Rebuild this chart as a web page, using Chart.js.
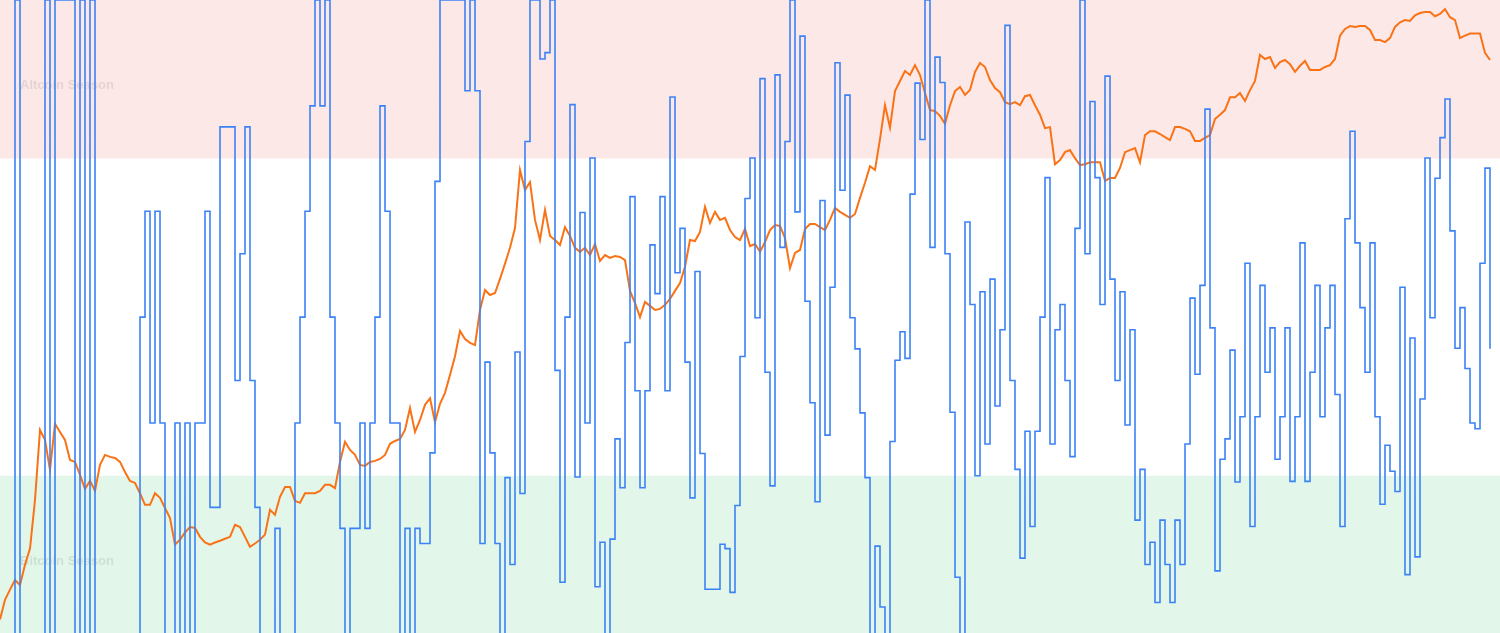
<!DOCTYPE html>
<html>
<head>
<meta charset="utf-8">
<script src="https://cdn.jsdelivr.net/npm/chart.js@4.4.1/dist/chart.umd.min.js"></script>
<style>
  html, body { margin: 0; padding: 0; background: #fff; overflow: hidden; }
  #wrap { width: 1500px; height: 633px; }
</style>
</head>
<body>
<div id="wrap"><canvas id="myChart" width="1500" height="633"></canvas></div>
<script>
// one sample every ~15 days, left to right
const START = new Date(2013, 6, 1);
const STEP_DAYS = 15;

// altcoin season index (0-100)
const altIndex = [
  null,null,0,100,0,0,0,0,0,100,0,100,100,100,100,0,100,0,100,0,
  0,0,0,0,0,0,0,0,50,66.7,33.3,66.7,33.3,0,0,33.3,0,33.3,0,33.3,
  33.3,66.7,20,20,80,80,80,40,60,80,40,20,0,0,0,16.7,0,0,0,33.3,
  50,66.7,83.3,100,83.3,100,50,33.3,16.7,0,16.7,16.7,33.3,16.7,33.3,50,83.3,66.7,33.3,33.3,
  0,16.7,0,16.7,14.3,14.3,28.6,71.4,100,100,100,100,100,85.7,100,85.7,14.3,42.9,28.6,14.3,
  0,24.7,11,44.5,22.2,77.7,100,100,90.7,91.7,100,41.6,8.2,50,83.5,24.8,66.5,33.3,75.1,7.5,
  14.5,0,15,30.8,23.1,46,69,38.4,23.1,38.4,61.4,53.7,69,38.4,84.7,57,64,42.9,21.5,57.2,
  28.5,7.1,7.1,7.1,14.2,13.5,6.6,20.3,43.8,68.7,75.1,49.9,87.6,41.3,23.4,88.2,61,77.7,100,66.6,
  94.3,52.5,36.5,20.9,68.4,31.4,54.7,90.1,70,85,49.9,45,34.9,24.7,0,13.9,4.3,0,30.4,43.2,
  47.7,43.5,69.4,86.9,78,100,61,91,87,60,35,9,0,65,52,25,54,30,56,36,
  48,96,40,26,12,32,17,32,50,72,30,48,52,40,28,64,100,60,84,72,
  52,88,56,40,54,33,48,18,26,11,14.5,5,18,11,5,18,11,30,53,41,
  55,82.8,48.3,10,27.6,30.8,44.8,24,34.3,58.5,17,34.3,55,41.3,48.3,27.6,34.3,48.3,24.1,34.3,
  61.7,24.1,41.3,55,34.3,48.3,55,37.8,17,65.5,79.3,61.7,51.5,41.3,61.7,34.3,20.5,29.8,25.7,22.5,
  54.7,9.4,46.7,12.2,37.1,75.1,49.9,71.9,78.3,84.4,63.6,45.1,51.5,41.9,33.3,32.4,58.5,73.5,45
];

// bitcoin price (USD, log scale)
const btcPrice = [
  99,125,141,158,149,189,229,407,929,826,580,1000,907,826,652,637,547,463,509,452,
  615,692,676,668,637,566,509,497,440,384,384,440,417,370,328,240,254,277,295,292,
  263,246,240,246,251,257,263,303,295,263,234,243,254,270,362,341,422,474,474,402,
  393,440,440,440,452,486,486,468,637,808,734,692,615,608,637,645,660,692,789,816,
  836,929,1205,907,1045,1250,1350,1020,1265,1440,1780,2220,2990,2720,2600,2530,3830,4850,4570,4680,
  5530,6610,7980,10080,20000,15800,17350,11100,8750,12500,9180,8750,8250,10200,9180,7980,7610,7980,7330,8350,
  6830,7330,7080,7250,7160,6910,4800,4160,3520,4210,4020,3830,3880,4070,4360,4800,5270,6380,8750,8650,
  9620,12940,10700,12200,11100,11370,9850,9070,8750,9970,8150,8350,7610,8550,9850,10450,10330,8960,6290,7520,
  7780,9970,10580,10580,10200,9850,11100,12790,12200,11770,11370,11900,14400,17200,20950,20000,28800,43000,33000,50800,
  57200,64400,61400,69000,61400,49600,40600,40100,37900,34500,43000,50800,53300,48500,51400,63700,70800,67500,57900,52600,
  50100,44600,43500,44600,43000,47800,48500,43000,38400,32800,33200,21400,22500,24700,25300,23000,21200,21400,21900,21900,
  21900,17600,18200,18200,20500,24700,25300,25900,21900,30200,31600,31600,30600,29500,28500,33200,33200,32500,31600,28200,
  28200,29200,30200,36500,38400,40600,47200,47200,49600,45200,51400,57200,77900,74200,75900,66800,71600,73300,69800,63700,
  68500,72500,65200,65200,65200,67500,69000,74200,97700,105800,109600,108300,109600,109600,104500,92800,92800,90600,95000,108300,
  114400,117500,116200,124400,127700,129300,129300,122900,126200,133900,121500,117500,95000,97700,100300,100300,100300,79700,73300
];

const zones = [
  { label: 'Altcoin Season', from: 75, to: 100, color: 'rgba(239,68,68,0.12)', textAt: 86.6 },
  { label: 'Bitcoin Season', from: 0, to: 25, color: 'rgba(34,197,94,0.13)', textAt: 11.5 }
];

const labels = altIndex.map((v, i) => {
  const d = new Date(START.getTime() + i * STEP_DAYS * 86400000);
  return d.toISOString().slice(0, 10);
});

const ctx = document.getElementById('myChart');

// shaded season bands + their names
const seasonBands = {
  id: 'seasonBands',
  beforeDatasetsDraw(chart) {
    const c = chart.ctx, area = chart.chartArea, y = chart.scales.y;
    c.save();
    zones.forEach(z => {
      const top = Math.max(y.getPixelForValue(z.to), area.top);
      const bottom = Math.min(y.getPixelForValue(z.from), area.bottom);
      c.fillStyle = z.color;
      c.fillRect(area.left, top, area.right - area.left, bottom - top);
    });
    c.font = 'bold 13px "Liberation Sans", Arial, sans-serif';
    c.textBaseline = 'middle';
    c.fillStyle = 'rgba(0,0,0,0.09)';
    c.shadowColor = 'rgba(0,0,0,0.12)';
    c.shadowBlur = 2;
    zones.forEach(z => {
      c.fillText(z.label, area.left + 20, y.getPixelForValue(z.textAt));
    });
    c.restore();
  }
};

new Chart(ctx, {
  type: 'line',
  data: {
    labels: labels,
    datasets: [{
      label: 'Altcoin Season Index',
      data: altIndex.map((v, i) => ({ x: i, y: v })),
      borderColor: '#3b82f6',
      borderWidth: 1.6,
      pointRadius: 0,
      stepped: 'before',
      yAxisID: 'y'
    }, {
      label: 'BTC',
      data: btcPrice.map((v, i) => ({ x: i, y: v })),
      borderColor: '#f97316',
      borderWidth: 2,
      pointRadius: 0,
      tension: 0,
      yAxisID: 'y1'
    }]
  },
  options: {
    responsive: false,
    animation: false,
    devicePixelRatio: 1,
    layout: { padding: 0 },
    plugins: { legend: { display: false }, tooltip: { enabled: false } },
    scales: {
      x: { type: 'linear', min: 0, max: 300, display: false },
      y: { min: 0.2, max: 100, display: false },
      y1: { type: 'logarithmic', min: 84.5, max: 148900, display: false, position: 'right' }
    }
  },
  plugins: [seasonBands]
});
</script>
</body>
</html>
